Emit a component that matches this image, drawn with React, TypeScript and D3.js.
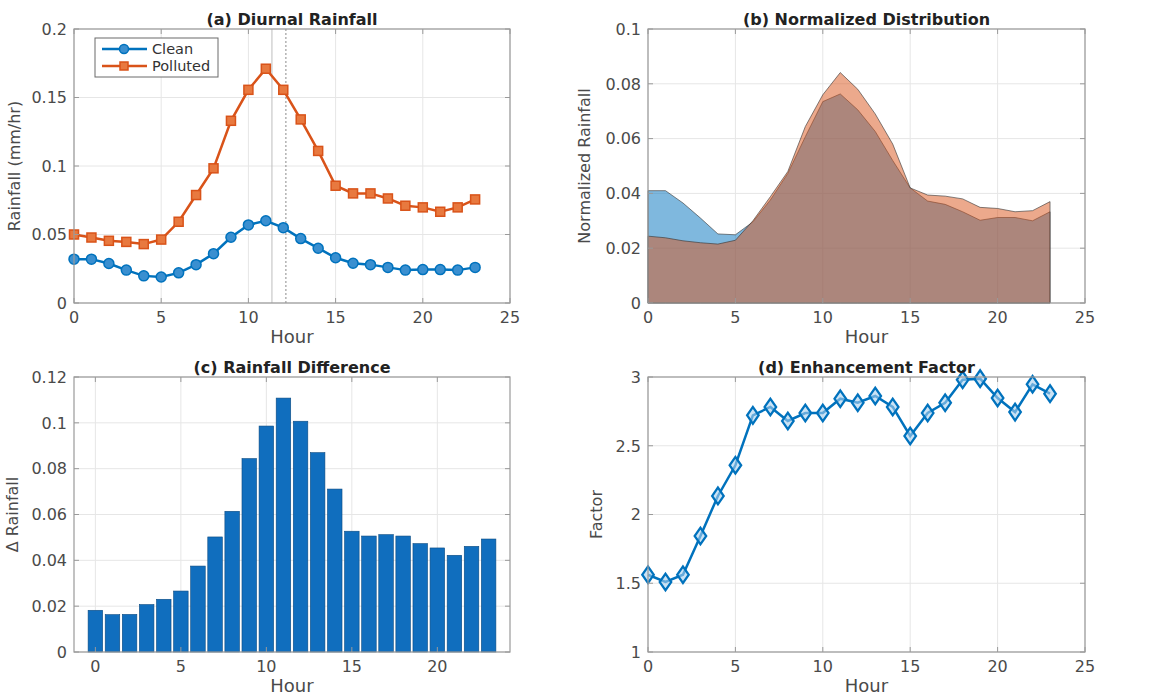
import React, { useEffect, useRef } from "react";
import * as d3 from "d3";

// hours of the day
const hours = [0, 1, 2, 3, 4, 5, 6, 7, 8, 9, 10, 11, 12, 13, 14, 15, 16, 17, 18, 19, 20, 21, 22, 23];

// (a) diurnal rainfall, mm/hr
const cleanRain = [0.032, 0.032, 0.0288, 0.024, 0.0198, 0.019, 0.022, 0.028, 0.036, 0.048, 0.057, 0.06, 0.055, 0.047, 0.04, 0.033, 0.029, 0.028, 0.026, 0.024, 0.0244, 0.0244, 0.024, 0.026];
const pollutedRain = [0.05, 0.0478, 0.0454, 0.0446, 0.043, 0.0463, 0.0593, 0.0788, 0.0983, 0.133, 0.1556, 0.171, 0.1556, 0.134, 0.111, 0.0856, 0.08, 0.08, 0.0763, 0.071, 0.0698, 0.0666, 0.0698, 0.0756];
const peakLines = [11.35, 12.15];

// (b) normalized distribution
const cleanNorm = [0.041, 0.041, 0.0365, 0.031, 0.0252, 0.0249, 0.0296, 0.0376, 0.0473, 0.0607, 0.0735, 0.0763, 0.0705, 0.0626, 0.052, 0.042, 0.0372, 0.036, 0.0333, 0.0302, 0.0312, 0.0312, 0.03, 0.0333];
const pollutedNorm = [0.0244, 0.0238, 0.0227, 0.022, 0.0215, 0.0229, 0.03, 0.0388, 0.048, 0.0644, 0.076, 0.0841, 0.078, 0.069, 0.058, 0.042, 0.0394, 0.039, 0.038, 0.0349, 0.0345, 0.0333, 0.0337, 0.037];

// (c) rainfall difference
const rainDiff = [0.0182, 0.0163, 0.0164, 0.0207, 0.023, 0.0266, 0.0375, 0.0502, 0.0614, 0.0844, 0.0986, 0.1108, 0.1007, 0.087, 0.0711, 0.0527, 0.0506, 0.0512, 0.0506, 0.0473, 0.0454, 0.0422, 0.0461, 0.0493];

// (d) enhancement factor
const factor = [1.562, 1.509, 1.562, 1.844, 2.135, 2.358, 2.721, 2.782, 2.68, 2.738, 2.738, 2.842, 2.813, 2.862, 2.782, 2.571, 2.738, 2.813, 2.98, 2.988, 2.847, 2.745, 2.947, 2.879];

// tick values
const hourTicks = [0, 5, 10, 15, 20, 25];
const barHourTicks = [0, 5, 10, 15, 20];
const rainTicks = [0, 0.05, 0.1, 0.15, 0.2];
const normTicks = [0, 0.02, 0.04, 0.06, 0.08, 0.1];
const diffTicks = [0, 0.02, 0.04, 0.06, 0.08, 0.1, 0.12];
const factorTicks = [1, 1.5, 2, 2.5, 3];

const BLUE = "#0072BD";
const ORANGE = "#D95319";
const FONT = "DejaVu Sans, Arial, sans-serif";

function App() {
  const ref = useRef(null);

  useEffect(() => {
    const svg = d3.select(ref.current);
    svg.selectAll("*").remove();

    // sets up a panel frame, grid, ticks, labels; returns the plot group
    function panel(box, x, y, xt, yt, title, ylabel, yOff) {
      const g = svg.append("g");
      g.append("rect")
        .attr("x", box.left)
        .attr("y", box.top)
        .attr("width", box.right - box.left)
        .attr("height", box.bottom - box.top)
        .attr("fill", "white");

      // grid
      xt.forEach((t) => {
        g.append("line")
          .attr("x1", x(t)).attr("x2", x(t))
          .attr("y1", box.top).attr("y2", box.bottom)
          .attr("stroke", "#e6e6e6");
      });
      yt.forEach((t) => {
        g.append("line")
          .attr("x1", box.left).attr("x2", box.right)
          .attr("y1", y(t)).attr("y2", y(t))
          .attr("stroke", "#e6e6e6");
      });

      const plot = svg.append("g");

      const frame = svg.append("g");
      frame.append("rect")
        .attr("x", box.left)
        .attr("y", box.top)
        .attr("width", box.right - box.left)
        .attr("height", box.bottom - box.top)
        .attr("fill", "none")
        .attr("stroke", "#9a9a9a")
        .attr("stroke-width", 1.2);

      // inward ticks on all sides
      xt.forEach((t) => {
        frame.append("line").attr("x1", x(t)).attr("x2", x(t)).attr("y1", box.bottom).attr("y2", box.bottom - 5).attr("stroke", "#9a9a9a");
        frame.append("line").attr("x1", x(t)).attr("x2", x(t)).attr("y1", box.top).attr("y2", box.top + 5).attr("stroke", "#9a9a9a");
        frame.append("text")
          .attr("x", x(t))
          .attr("y", box.bottom + 20)
          .attr("text-anchor", "middle")
          .attr("font-family", FONT)
          .attr("font-size", 16)
          .attr("fill", "#4a4a4a")
          .text(String(t));
      });
      yt.forEach((t) => {
        frame.append("line").attr("x1", box.left).attr("x2", box.left + 5).attr("y1", y(t)).attr("y2", y(t)).attr("stroke", "#9a9a9a");
        frame.append("line").attr("x1", box.right).attr("x2", box.right - 5).attr("y1", y(t)).attr("y2", y(t)).attr("stroke", "#9a9a9a");
        frame.append("text")
          .attr("x", box.left - 7)
          .attr("y", y(t))
          .attr("dy", "0.36em")
          .attr("text-anchor", "end")
          .attr("font-family", FONT)
          .attr("font-size", 16)
          .attr("fill", "#4a4a4a")
          .text(String(t));
      });

      const cx = (box.left + box.right) / 2;
      frame.append("text")
        .attr("x", cx)
        .attr("y", box.top - 4)
        .attr("text-anchor", "middle")
        .attr("font-family", FONT)
        .attr("font-size", 16)
        .attr("font-weight", "bold")
        .attr("fill", "#222")
        .text(title);

      frame.append("text")
        .attr("x", cx)
        .attr("y", box.bottom + 40)
        .attr("text-anchor", "middle")
        .attr("font-family", FONT)
        .attr("font-size", 18)
        .attr("fill", "#4a4a4a")
        .text("Hour");

      const cy = (box.top + box.bottom) / 2;
      frame.append("text")
        .attr("transform", `translate(${box.left - yOff},${cy}) rotate(-90)`)
        .attr("text-anchor", "middle")
        .attr("font-family", FONT)
        .attr("font-size", 16)
        .attr("fill", "#4a4a4a")
        .text(ylabel);

      return plot;
    }

    const boxA = { left: 74, right: 510, top: 29, bottom: 303 };
    const boxB = { left: 648, right: 1085, top: 29, bottom: 303 };
    const boxC = { left: 74, right: 510, top: 377, bottom: 652 };
    const boxD = { left: 648, right: 1085, top: 377, bottom: 652 };

    //(a) Diurnal Rainfall
    const xA = d3.scaleLinear().domain([0, 25]).range([boxA.left, boxA.right]);
    const yA = d3.scaleLinear().domain([0, 0.2]).range([boxA.bottom, boxA.top]);
    const pA = panel(boxA, xA, yA, hourTicks, rainTicks, "(a) Diurnal Rainfall", "Rainfall (mm/hr)", 54);

    peakLines.forEach((h, i) => {
      pA.append("line")
        .attr("x1", xA(h)).attr("x2", xA(h))
        .attr("y1", boxA.top).attr("y2", boxA.bottom)
        .attr("stroke", i === 0 ? "#bdbdbd" : "#8a8a8a")
        .attr("stroke-width", 1)
        .attr("stroke-dasharray", i === 0 ? null : "2,2");
    });

    const lineA = (vals) =>
      d3.line().x((d, i) => xA(hours[i])).y((d) => yA(d))(vals);

    pA.append("path").attr("d", lineA(pollutedRain)).attr("fill", "none").attr("stroke", ORANGE).attr("stroke-width", 2.5);
    pA.selectAll(".sq")
      .data(pollutedRain)
      .enter()
      .append("rect")
      .attr("x", (d, i) => xA(hours[i]) - 4.5)
      .attr("y", (d) => yA(d) - 4.5)
      .attr("width", 9)
      .attr("height", 9)
      .attr("fill", "#e8793f")
      .attr("stroke", ORANGE)
      .attr("stroke-width", 1.5);

    pA.append("path").attr("d", lineA(cleanRain)).attr("fill", "none").attr("stroke", BLUE).attr("stroke-width", 2.5);
    pA.selectAll(".ci")
      .data(cleanRain)
      .enter()
      .append("circle")
      .attr("cx", (d, i) => xA(hours[i]))
      .attr("cy", (d) => yA(d))
      .attr("r", 5)
      .attr("fill", "#3a8fd0")
      .attr("stroke", BLUE)
      .attr("stroke-width", 1.5);

    // legend
    const leg = pA.append("g");
    leg.append("rect")
      .attr("x", 95).attr("y", 38).attr("width", 123).attr("height", 39)
      .attr("fill", "white").attr("stroke", "#6a6a6a").attr("stroke-width", 1);
    [
      { name: "Clean", color: BLUE, y: 49 },
      { name: "Polluted", color: ORANGE, y: 66 },
    ].forEach((s, i) => {
      leg.append("line").attr("x1", 102).attr("x2", 147).attr("y1", s.y).attr("y2", s.y).attr("stroke", s.color).attr("stroke-width", 2.5);
      if (i === 0) {
        leg.append("circle").attr("cx", 124).attr("cy", s.y).attr("r", 4.5).attr("fill", "#3a8fd0").attr("stroke", BLUE).attr("stroke-width", 1.5);
      } else {
        leg.append("rect").attr("x", 120).attr("y", s.y - 4).attr("width", 8).attr("height", 8).attr("fill", "#e8793f").attr("stroke", ORANGE).attr("stroke-width", 1.5);
      }
      leg.append("text")
        .attr("x", 152).attr("y", s.y).attr("dy", "0.36em")
        .attr("font-family", FONT).attr("font-size", 14.5).attr("fill", "#333")
        .text(s.name);
    });

    //(b) Normalized Distribution
    const xB = d3.scaleLinear().domain([0, 25]).range([boxB.left, boxB.right]);
    const yB = d3.scaleLinear().domain([0, 0.1]).range([boxB.bottom, boxB.top]);
    const pB = panel(boxB, xB, yB, hourTicks, normTicks, "(b) Normalized Distribution", "Normalized Rainfall", 58);

    const areaB = d3.area().x((d, i) => xB(hours[i])).y0(yB(0)).y1((d) => yB(d));
    pB.append("path").attr("d", areaB(cleanNorm)).attr("fill", BLUE).attr("fill-opacity", 0.5).attr("stroke", "#333").attr("stroke-opacity", 0.6).attr("stroke-width", 1);
    pB.append("path").attr("d", areaB(pollutedNorm)).attr("fill", ORANGE).attr("fill-opacity", 0.5).attr("stroke", "#333").attr("stroke-opacity", 0.6).attr("stroke-width", 1);

    //(c) Rainfall Difference
    const xC = d3.scaleLinear().domain([-1.25, 24.25]).range([boxC.left, boxC.right]);
    const yC = d3.scaleLinear().domain([0, 0.12]).range([boxC.bottom, boxC.top]);
    const pC = panel(boxC, xC, yC, barHourTicks, diffTicks, "(c) Rainfall Difference", "\u0394 Rainfall", 56);

    const bw = (xC(1) - xC(0)) * 0.85;
    pC.selectAll(".bar")
      .data(rainDiff)
      .enter()
      .append("rect")
      .attr("x", (d, i) => xC(hours[i]) - bw / 2)
      .attr("y", (d) => yC(d))
      .attr("width", bw)
      .attr("height", (d) => yC(0) - yC(d))
      .attr("fill", "#106ebe")
      .attr("stroke", "#0b4a80")
      .attr("stroke-width", 0.6);

    //(d) Enhancement Factor
    const xD = d3.scaleLinear().domain([0, 25]).range([boxD.left, boxD.right]);
    const yD = d3.scaleLinear().domain([1, 3]).range([boxD.bottom, boxD.top]);
    const pD = panel(boxD, xD, yD, hourTicks, factorTicks, "(d) Enhancement Factor", "Factor", 46);

    const lineD = d3.line().x((d, i) => xD(hours[i])).y((d) => yD(d));
    pD.append("path").attr("d", lineD(factor)).attr("fill", "none").attr("stroke", BLUE).attr("stroke-width", 2.5);
    const diamond = d3.symbol().type(d3.symbolDiamond).size(80);
    pD.selectAll(".dm")
      .data(factor)
      .enter()
      .append("path")
      .attr("d", diamond)
      .attr("transform", (d, i) => `translate(${xD(hours[i])},${yD(d)}) scale(1.2,1)`)
      .attr("fill", "#a9d0ee")
      .attr("fill-opacity", 0.6)
      .attr("stroke", BLUE)
      .attr("stroke-width", 2);
  }, []);

  return (
    <svg
      ref={ref}
      width={1151}
      height={696}
      style={{ position: "absolute", left: 0, top: 0, background: "white" }}
    />
  );
}

export default App;
